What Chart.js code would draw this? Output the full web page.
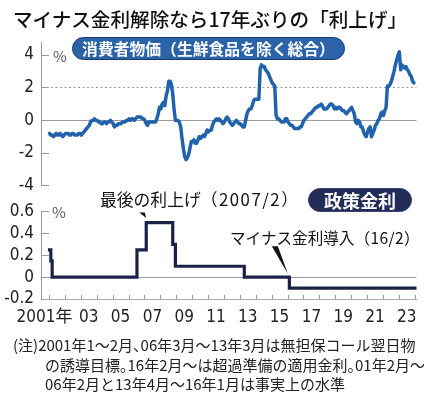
<!DOCTYPE html>
<html><head><meta charset="utf-8">
<script src="https://cdn.jsdelivr.net/npm/chart.js@4.4.1/dist/chart.umd.min.js"></script>
<style>
html,body{margin:0;padding:0;background:#fff;}
#wrap{position:relative;width:424px;height:393px;overflow:hidden;font-family:'Noto Sans CJK JP',sans-serif;color:#111;}
canvas{position:absolute;left:0;}
#c1{top:30px;}
#c2{top:190px;}
.t{position:absolute;white-space:nowrap;}
#title{left:0;width:420px;top:7px;height:24px;line-height:24px;text-align:center;font-size:19.6px;font-weight:500;}
.pill{box-sizing:border-box;border-radius:14px;color:#fff;font-weight:700;text-align:center;}
#pill1{left:72px;top:37px;width:273px;height:23px;line-height:21px;font-size:15.8px;background:#2b63a9;border:1.5px solid #163a6c;}
#pill2{left:308px;top:188px;width:104px;height:24px;line-height:22px;font-size:18px;background:#222c58;border:1.5px solid #3c4670;}
.pct{font-size:15px;color:#555;line-height:16px;}
#ann1{left:100px;top:189px;font-size:16.8px;line-height:20px;}
#ann2{left:230px;top:227px;font-size:15.6px;line-height:20px;}
.ls{letter-spacing:1.5px;}
#note{left:13px;top:335px;font-size:15px;line-height:19.5px;color:#222;white-space:nowrap;}
#note .in{padding-left:32px;}
#note .p{font-feature-settings:"halt";}
</style></head>
<body>
<div id="wrap">
  <canvas id="c1" width="424" height="175"></canvas>
  <canvas id="c2" width="424" height="145"></canvas>
  <div id="title" class="t">マイナス金利解除なら17年ぶりの「利上げ」</div>
  <div id="pill1" class="t pill">消費者物価（生鮮食品を除く総合）</div>
  <div id="pill2" class="t pill">政策金利</div>
  <div class="t pct" style="left:53px;top:48px;">%</div>
  <div class="t pct" style="left:52px;top:204px;">%</div>
  <div id="ann1" class="t">最後の利上げ<span class="ls">（2007/2）</span></div>
  <div id="ann2" class="t">マイナス金利導入<span style="letter-spacing:0.4px">（16/2）</span></div>
  <div id="note" class="t">(注)2001年1～2月<span class="p">、</span>06年3月～13年3月は無担保コール翌日物<br><span class="in">の誘導目標<span class="p">。</span>16年2月～は超過準備の適用金利<span class="p">。</span>01年2月～</span><br><span class="in">06年2月と13年4月～16年1月は事実上の水準</span></div>
</div>
<script>
// ---- data (year-over-year %, monthly Jan..Dec) ----
const cpi2001 = [-0.8,-0.9,-0.9,-1.0,-0.9,-0.8,-0.9,-0.9,-0.8,-0.9,-1.0,-0.9];
const cpi2002 = [-0.8,-0.8,-0.8,-0.9,-0.9,-0.8,-0.8,-0.9,-0.9,-0.9,-0.8,-0.8];
const cpi2003 = [-0.9,-0.8,-0.7,-0.6,-0.5,-0.4,-0.3,-0.1,0.0,0.0,0.1,0.0];
const cpi2004 = [0.0,-0.1,-0.1,-0.2,-0.2,-0.1,-0.1,-0.2,-0.1,-0.1,0.0,-0.1];
const cpi2005 = [-0.2,-0.4,-0.3,-0.3,-0.2,-0.2,-0.2,-0.1,-0.1,-0.1,0.0,0.0];
const cpi2006 = [0.1,0.0,0.1,0.1,0.0,0.1,0.2,0.2,0.2,0.2,0.1,0.1];
const cpi2007 = [0.0,-0.2,-0.3,-0.1,-0.1,-0.1,-0.1,-0.1,-0.1,0.1,0.4,0.8];
const cpi2008 = [0.7,1.0,1.1,0.9,1.5,1.8,2.4,2.4,2.2,1.6,0.7,0.0];
const cpi2009 = [0.0,0.0,-0.1,-0.4,-1.1,-1.7,-2.2,-2.4,-2.3,-2.1,-1.7,-1.3];
const cpi2010 = [-1.3,-1.2,-1.4,-1.4,-1.2,-1.0,-1.1,-1.0,-0.9,-1.0,-0.8,-0.6];
const cpi2011 = [-0.7,-0.6,-0.6,-0.3,-0.1,0.0,0.1,0.0,0.1,0.0,-0.1,-0.2];
const cpi2012 = [-0.1,0.1,0.2,0.1,-0.1,-0.2,-0.3,-0.2,-0.1,0.0,-0.1,-0.2];
const cpi2013 = [-0.2,-0.3,-0.4,-0.4,0.0,0.4,0.6,0.7,0.7,0.9,1.2,1.3];
const cpi2014 = [1.3,1.3,1.3,3.2,3.4,3.3,3.3,3.1,3.0,2.9,2.7,2.5];
const cpi2015 = [2.3,2.2,2.1,0.3,0.1,0.1,0.0,-0.1,-0.1,-0.1,0.1,0.1];
const cpi2016 = [-0.1,-0.2,-0.3,-0.3,-0.4,-0.5,-0.5,-0.5,-0.5,-0.4,-0.4,-0.2];
const cpi2017 = [0.0,0.1,0.2,0.3,0.4,0.4,0.5,0.6,0.7,0.8,0.8,0.9];
const cpi2018 = [0.9,1.0,0.9,0.7,0.7,0.7,0.8,0.9,1.0,1.0,0.9,0.7];
const cpi2019 = [0.8,0.7,0.8,0.8,0.7,0.6,0.6,0.5,0.4,0.5,0.6,0.7];
const cpi2020 = [0.8,0.6,0.4,-0.1,-0.2,0.0,-0.1,-0.4,-0.4,-0.7,-0.9,-1.0];
const cpi2021 = [-0.7,-0.5,-0.4,-1.0,-0.8,-0.6,-0.3,-0.2,0.0,0.1,0.4,0.5];
const cpi2022 = [0.3,0.6,0.8,2.1,2.1,2.2,2.4,2.7,3.0,3.4,3.7,4.0];
const cpi2023 = [4.2,3.1,3.4,3.3,3.2,3.3,3.1,3.0,2.8,2.7,2.4,2.3];
const cpiByYear = [cpi2001,cpi2002,cpi2003,cpi2004,cpi2005,cpi2006,cpi2007,cpi2008,cpi2009,cpi2010,cpi2011,cpi2012,
                   cpi2013,cpi2014,cpi2015,cpi2016,cpi2017,cpi2018,cpi2019,cpi2020,cpi2021,cpi2022,cpi2023];
const cpiFirstYear = 2001;

// policy rate: month from which each level applies
const policyDates = ['2001-01','2001-02','2001-03','2006-07','2007-02','2008-10','2008-12','2013-04','2016-02'];
const policyRates = [0.25, 0.15, 0, 0.25, 0.5, 0.3, 0.1, 0, -0.1];
const lastHikeDate = '2007-02';
const negativeRateDate = '2016-02';

// axes
const xMin = 2000.465, xMax = 2024.08;
const xTickYears = [2001,2002,2003,2004,2005,2006,2007,2008,2009,2010,2011,2012,2013,2014,2015,2016,2017,2018,2019,2020,2021,2022,2023,2024];
const xLabelYears = [2001,2003,2005,2007,2009,2011,2013,2015,2017,2019,2021,2023];
const xLabelTexts = ['2001年','03','05','07','09','11','13','15','17','19','21','23'];
const cpiTicks = [-4,-2,0,2,4];
const cpiTickLabels = ['-4','-2','0','2','4'];
const rateTicks = [-0.2,0,0.2,0.4,0.6];
const rateTickLabels = ['-0.2','0','0.2','0.4','0.6'];

// ---- helpers ----
const toYear = s => { const [y,m] = s.split('-').map(Number); return y + (m-1)/12; };
function hasFont(name){
  const c = document.createElement('canvas').getContext('2d');
  const s = '0123456789-.abcXYZ';
  c.font = '40px monospace'; const a = c.measureText(s).width;
  c.font = `40px '${name}', monospace`; const b = c.measureText(s).width;
  return Math.abs(a-b) > 0.5;
}
let tickFamily = null, tickSize = 17;
for (const f of ['Liberation Sans Narrow','DejaVu Sans Condensed','Arial Narrow','Roboto Condensed']) {
  if (hasFont(f)) { tickFamily = f; break; }
}
if (!tickFamily) { tickFamily = 'Liberation Sans'; tickSize = 15; }
const tickFont = {family: `'${tickFamily}', 'Noto Sans CJK JP', sans-serif`, size: tickSize, weight: 'normal'};

// label ticks sit mid-year; the first label is pulled left so that it starts near the canvas edge
const labelMidYear = 0.47;
const firstLabelPull = 0.78;
const xTickObjs = xTickYears.map(v => ({value: v, lbl: ''}))
  .concat(xLabelYears.map((y, i) => ({value: y + labelMidYear - (i === 0 ? firstLabelPull : 0), lbl: xLabelTexts[i]})))
  .sort((a, b) => a.value - b.value);

const cpiData = [];
cpiByYear.forEach((arr, yi) => arr.forEach((v, mi) => cpiData.push({x: cpiFirstYear + yi + mi/12, y: v})));
const policyData = policyDates.map((d, i) => ({x: toYear(d), y: policyRates[i]}));
policyData.push({x: xMax, y: policyRates[policyRates.length-1]});

Chart.defaults.font.family = tickFont.family;
Chart.defaults.color = '#222';

function fixY(scale){ scale.width = 41; scale.paddingTop = 0; scale.paddingBottom = 0; }

const common = {
  responsive: false, animation: false, devicePixelRatio: 1,
  plugins: {legend: {display: false}, tooltip: {enabled: false}},
  elements: {point: {radius: 0}, line: {tension: 0}}
};

new Chart(document.getElementById('c1'), {
  type: 'line',
  data: {datasets: [{data: cpiData, borderColor: '#2162ad', borderWidth: 3.5, borderJoinStyle: 'round', borderCapStyle: 'round', fill: false}]},
  options: Object.assign({}, common, {
    layout: {padding: {top: 12, bottom: 19.3, left: 0, right: 7.5}},
    scales: {
      x: {type: 'linear', min: xMin, max: xMax, display: false},
      y: {
        min: -4, max: 4.8,
        afterBuildTicks: s => { s.ticks = cpiTicks.map(v => ({value: v})); },
        afterFit: fixY,
        border: {display: true, color: '#999', width: 1,
                 dash: c => (c.tick && c.tick.value === 2) ? [2, 2.5] : []},
        grid: {drawTicks: true, tickLength: -8, tickColor: '#999', tickWidth: 1,
               color: c => (c.tick && (c.tick.value === 0 || c.tick.value === 2)) ? '#9a9a9a' : 'rgba(0,0,0,0)'},
        ticks: {font: tickFont, color: '#222', padding: 15, autoSkip: false,
                callback: v => cpiTickLabels[cpiTicks.indexOf(v)]}
      }
    }
  })
});

const pointerPlugin = {
  id: 'pointers',
  afterDatasetsDraw(chart){
    const {ctx, scales: {x, y}} = chart;
    ctx.save();
    ctx.fillStyle = '#111';
    const hikeIdx = policyDates.indexOf(lastHikeDate);
    let px = x.getPixelForValue(toYear(lastHikeDate)), py = y.getPixelForValue(policyRates[hikeIdx]);
    ctx.beginPath();
    ctx.moveTo(px - 7, py - 10); ctx.lineTo(px - 1.5, py - 10); ctx.lineTo(px, py - 4.5); ctx.closePath(); ctx.fill();
    const negIdx = policyDates.indexOf(negativeRateDate);
    px = x.getPixelForValue(toYear(negativeRateDate)); py = y.getPixelForValue(policyRates[negIdx - 1]);
    ctx.beginPath();
    ctx.moveTo(px - 17.5, py - 31); ctx.lineTo(px - 11.5, py - 31); ctx.lineTo(px - 1.5, py - 3.5); ctx.closePath(); ctx.fill();
    ctx.restore();
  }
};

new Chart(document.getElementById('c2'), {
  type: 'line',
  data: {datasets: [{data: policyData, stepped: 'before', borderColor: '#1b2248', borderWidth: 3.2, borderJoinStyle: 'miter', borderCapStyle: 'square', fill: false}]},
  options: Object.assign({}, common, {
    layout: {padding: {top: 21.7, bottom: 6, left: 0, right: 7.5}},
    scales: {
      x: {
        type: 'linear', min: xMin, max: xMax, position: 'bottom',
        afterBuildTicks: s => { s.ticks = xTickObjs.map(t => ({value: t.value, lbl: t.lbl})); },
        afterFit: s => { s.height = 30; s.paddingLeft = 0; s.paddingRight = 0; },
        border: {display: true, color: '#aaa', width: 1},
        grid: {drawOnChartArea: false, drawTicks: true, tickLength: -4, tickWidth: 1,
               tickColor: c => (c.tick && c.tick.lbl) ? 'rgba(0,0,0,0)' : '#999'},
        ticks: {font: tickFont, color: '#222', padding: 12, autoSkip: false, maxRotation: 0, minRotation: 0,
                callback: (v, i, ticks) => ticks[i].lbl || ''}
      },
      y: {
        min: -0.2, max: 0.6,
        afterBuildTicks: s => { s.ticks = rateTicks.map(v => ({value: v})); },
        afterFit: fixY,
        border: {display: true, color: '#999', width: 1},
        grid: {drawTicks: true, tickLength: -8, tickColor: '#999', tickWidth: 1,
               color: c => (c.tick && c.tick.value === 0) ? '#9a9a9a' : 'rgba(0,0,0,0)'},
        ticks: {font: tickFont, color: '#222', padding: 15, autoSkip: false,
                callback: v => rateTickLabels[rateTicks.indexOf(v)]}
      }
    }
  }),
  plugins: [pointerPlugin]
});
</script>
</body></html>
